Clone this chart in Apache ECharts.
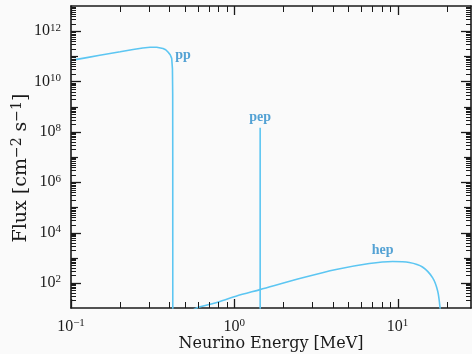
<!DOCTYPE html>
<html><head><meta charset="utf-8">
<script src="https://cdn.jsdelivr.net/npm/echarts@6/dist/echarts.min.js"></script>
<style>html,body{margin:0;padding:0;background:#fafafa}#c{width:472px;height:354px}</style>
</head><body><div id="c"></div>
<script>
// Energies in MeV, fluxes in cm^-2 s^-1
const ppE    = [0.1, 0.125, 0.15, 0.2, 0.24, 0.275, 0.305, 0.335, 0.366, 0.38, 0.3925, 0.405, 0.4137, 0.418, 0.4195, 0.4199, 0.42];
const ppF    = [6.9e10, 8.9e10, 1.1e11, 1.51e11, 1.86e11, 2.14e11, 2.29e11, 2.29e11, 2.04e11, 1.82e11, 1.48e11, 1.15e11, 8.3e10, 3.2e10, 3.2e9, 1e7, 1];
const pepE   = [1.44, 1.44];
const pepF   = [1.44e8, 1];
const hepE   = [0.5, 0.588, 0.762, 1.024, 1.437, 2.62, 4.2, 6.71, 9.33, 11.8, 14.2, 16.4, 17.6, 18.2, 18.77];
const hepF   = [5, 10, 15.8, 29.4, 53.7, 158, 339, 589, 708, 646, 427, 158, 47, 10, 1];
const labelNames = ['pp', 'pep', 'hep'];
const labelE = [0.485, 1.44, 8.1];
const labelF = [1.1e11, 3.6e8, 1.95e3];
const xTitle = 'Neurino Energy [MeV]';
const xDecades = [0.1, 1, 10];            // major x ticks
const yDecades = [1e1,1e2,1e3,1e4,1e5,1e6,1e7,1e8,1e9,1e10,1e11,1e12,1e13];
const mantissas = [2,3,4,5,6,7,8,9];      // minor ticks inside each decade
const X_MIN = 0.1, X_MAX = 28.15, Y_MIN = 10, Y_MAX = 1e13;

const FONT = 'Liberation Serif';
const TFONT = 'DejaVu Serif';
const lineColor = '#5cc6f2';
const textColor = '#2a8ccb';
const ink = '#1a1a1a';
const rich = {sup: {fontSize: 11, verticalAlign: 'top', padding: [0,0,7,0], fontFamily: FONT, color: ink}, b: {fontSize: 16, fontFamily: FONT, color: ink}};
function powLabel(v) {
  const e = Math.round(Math.log10(v));
  if (Math.abs(Math.log10(v) - e) > 1e-6) return '';
  return '{b|10}{sup|' + String(e).replace('-', '\u2212') + '}';
}
function powLabelEven(v) {
  const e = Math.round(Math.log10(v));
  if (e % 2 !== 0) return '';
  return powLabel(v);
}
const zip = (a, b) => a.map((v, i) => [v, b[i]]);

// tick list: [x, y, kind]  kind 0 x-major, 1 x-minor, 2 y-major even, 3 y-major odd, 4 y-minor
const ticks = [];
xDecades.forEach(d => {
  ticks.push([d, Y_MIN, 0]);
  mantissas.forEach(m => { const v = m * d; if (v < X_MAX) ticks.push([v, Y_MIN, 1]); });
});
yDecades.forEach(d => {
  const e = Math.round(Math.log10(d));
  if (d > Y_MIN && d < Y_MAX) ticks.push([X_MIN, d, e % 2 === 0 ? 2 : 3]);
  if (d < Y_MAX) mantissas.forEach(m => ticks.push([X_MIN, m * d, 4]));
});
const tickLen = [9, 6, 10, 7, 5];
const tickW = [1.3, 1, 1.3, 1.2, 1];

const axisLine = {show: true, lineStyle: {color: ink, width: 1.6}};
const xBase = {type: 'log', logBase: 10, min: X_MIN, max: X_MAX, splitLine: {show: false},
  axisLine: axisLine, axisTick: {show: false}, minorTick: {show: false}};
const yBase = {type: 'log', logBase: 10, min: Y_MIN, max: Y_MAX, interval: 1, splitLine: {show: false},
  axisLine: axisLine, axisTick: {show: false}, minorTick: {show: false}};

const chart = echarts.init(document.getElementById('c'));
chart.setOption({
  backgroundColor: '#fafafa',
  animation: false,
  grid: {left: 71, right: 1, top: 6, bottom: 46, containLabel: false, outerBoundsMode: 'none'},
  xAxis: [
    Object.assign({}, xBase, {position: 'bottom', name: xTitle, nameLocation: 'middle', nameGap: 28, nameMoveOverlap: false,
      nameTextStyle: {fontFamily: TFONT, fontSize: 16, color: ink},
      axisLabel: {formatter: powLabel, rich: rich, margin: 10, interval: 0, showMaxLabel: false, showMinLabel: true}}),
    Object.assign({}, xBase, {position: 'top', axisLabel: {show: false}})
  ],
  yAxis: [
    Object.assign({}, yBase, {position: 'left', name: 'Flux [cm{s|\u22122} s{s|\u22121}]', nameLocation: 'middle', nameGap: 38, nameRotate: 90, nameMoveOverlap: false,
      nameTextStyle: {fontFamily: TFONT, fontSize: 19, color: ink, padding: [0, 22, 0, 0], rich: {s: {fontFamily: TFONT, fontSize: 14, verticalAlign: 'top', padding: [0,0,9,0], color: ink}}},
      axisLabel: {formatter: powLabelEven, rich: rich, margin: 10, interval: 0}}),
    Object.assign({}, yBase, {position: 'right', axisLabel: {show: false}})
  ],
  series: [
    {type: 'line', data: zip(ppE, ppF), showSymbol: false, lineStyle: {color: lineColor, width: 1.6}, clip: true},
    {type: 'line', data: zip(pepE, pepF), showSymbol: false, lineStyle: {color: lineColor, width: 1.6}, clip: true},
    {type: 'line', data: zip(hepE, hepF), smooth: 0.3, showSymbol: false, lineStyle: {color: lineColor, width: 1.6}, clip: true},
    {type: 'scatter', data: labelE.map((e, i) => ({value: [e, labelF[i]], name: labelNames[i]})), symbolSize: 1,
      itemStyle: {color: 'rgba(0,0,0,0)'}, silent: true, z: 6,
      label: {show: true, position: 'inside', formatter: p => p.name, fontFamily: FONT, fontWeight: 'bold', fontSize: 14, color: textColor}},
    {type: 'custom', data: ticks, silent: true, clip: false, z: 5,
      renderItem: function (params, api) {
        const cs = params.coordSys;
        const kind = api.value(2);
        const p = api.coord([api.value(0), api.value(1)]);
        const len = tickLen[kind];
        const style = {stroke: ink, lineWidth: tickW[kind]};
        if (kind <= 1) {
          const x = Math.round(p[0]) + 0.5;
          return {type: 'group', children: [
            {type: 'line', shape: {x1: x, y1: cs.y + cs.height, x2: x, y2: cs.y + cs.height - len}, style: style},
            {type: 'line', shape: {x1: x, y1: cs.y, x2: x, y2: cs.y + len}, style: style}
          ]};
        }
        const y = Math.round(p[1]) + 0.5;
        return {type: 'group', children: [
          {type: 'line', shape: {x1: cs.x, y1: y, x2: cs.x + len, y2: y}, style: style},
          {type: 'line', shape: {x1: cs.x + cs.width, y1: y, x2: cs.x + cs.width - len, y2: y}, style: style}
        ]};
      }}
  ]
});
</script></body></html>
